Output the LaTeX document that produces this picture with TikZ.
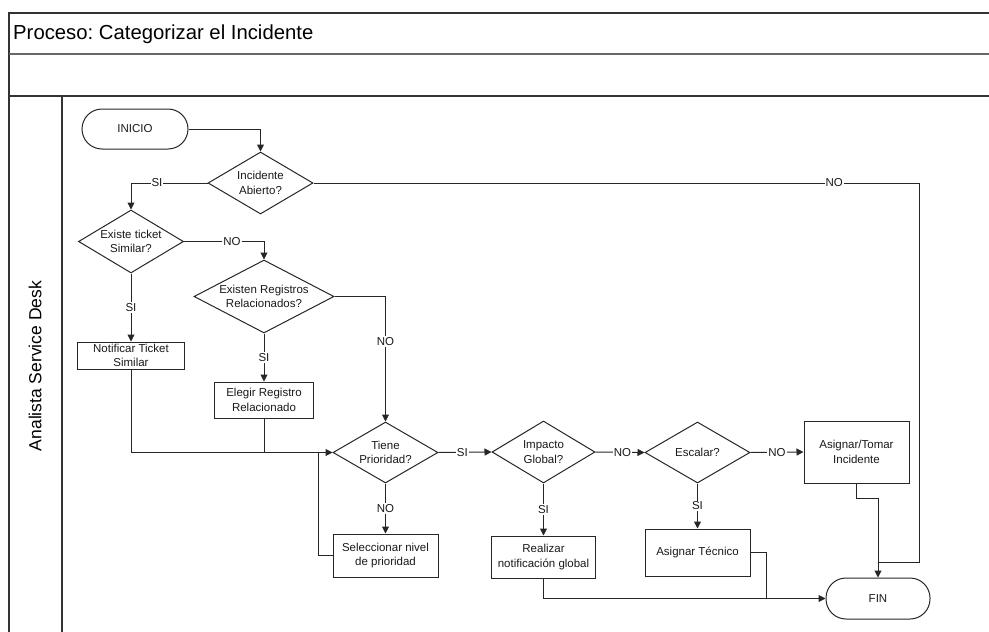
\documentclass[tikz,border=0pt]{standalone}
\usepackage{fontspec}
\setmainfont{Liberation Sans}
\usetikzlibrary{shapes.geometric,arrows.meta}
\frenchspacing
\begin{document}
\begin{tikzpicture}[x=1pt,y=-1pt,
  ln/.style={line width=1pt, draw=black!85},
  arr/.style={ln, -{Triangle[length=7pt,width=7pt]}},
  frame/.style={line width=1.3pt, draw=black!80},
  txt/.style={font=\fontsize{11.5}{14.5}\selectfont, align=center, inner sep=0pt, text=black!90},
  box/.style={draw=black!85, line width=1pt, rectangle, inner sep=0pt, txt},
  dia/.style={draw=black!85, line width=1pt, diamond, inner sep=0pt, minimum width=105pt, minimum height=62pt},
  term/.style={box, rounded corners=20pt},
  lbl/.style={font=\fontsize{11.5}{14}\selectfont, fill=white, inner sep=1pt, text=black!90},
]
\useasboundingbox (0,0) rectangle (989,632);

% pool and lane frame
\draw[frame] (989,13) -- (9,13) -- (9,632);
\draw[frame, draw=black!60] (9,54) -- (989,54);
\draw[frame] (9,96) -- (989,96);
\draw[frame] (62,96) -- (62,632);
\node[anchor=base west, font=\fontsize{20.3}{24}\selectfont, inner sep=0pt] (title) at (13,39) {Proceso: Categorizar el Incidente};
\node[rotate=90, font=\fontsize{17.5}{20}\selectfont, inner sep=0pt] (lane) at (35,366) {Analista Service Desk};

% terminals
\node[term, minimum width=106pt, minimum height=40pt] (ini) at (135,129) {INICIO};
\node[term, minimum width=104pt, minimum height=41pt] (fin) at (878,598.5) {FIN};

% decisions
\node[dia] (d1) at (260.5,183) {};
\node[txt] (d1t) at (d1) {Incidente\\Abierto?};
\node[dia, minimum height=63pt] (d2) at (131,241.5) {};
\node[txt] (d2t) at (d2) {Existe ticket\\Similar?};
\node[dia, minimum width=140pt, minimum height=73pt] (d3) at (264,296.5) {};
\node[txt] (d3t) at (d3) {Existen Registros\\Relacionados?};
\node[dia, minimum height=61pt] (d4) at (385.5,452.5) {};
\node[txt] (d4t) at (d4) {Tiene\\Prioridad?};
\node[dia, minimum width=103pt] (d5) at (543.5,452) {};
\node[txt] (d5t) at (d5) {Impacto\\Global?};
\node[dia, minimum height=61pt] (d6) at (697.5,452.5) {};
\node[txt] (d6t) at (d6) {Escalar?};

% activities
\node[box, minimum width=107pt, minimum height=27pt] (b1) at (131,355.5) {Notificar Ticket\\Similar};
\node[box, minimum width=99pt, minimum height=36pt] (b2) at (264,400) {Elegir Registro\\Relacionado};
\node[box, minimum width=105pt, minimum height=43pt] (b3) at (385.5,555.5) {Seleccionar nivel\\de prioridad};
\node[box, minimum width=104pt, minimum height=42pt] (b4) at (543.5,557) {Realizar\\notificación global};
\node[box, minimum width=105pt, minimum height=62pt] (b5) at (856.5,452) {Asignar/Tomar\\Incidente};
\node[box, minimum width=105pt, minimum height=47pt] (b6) at (697.5,552.5) {Asignar Técnico};

% bend and junction points
\coordinate (j1) at (318,452.5);
\coordinate (j2) at (766,598.5);
\coordinate (k1) at (919,183);
\coordinate (j3) at (878,562);
\coordinate (k2) at (878,498);

% connectors
\draw[arr] (ini.east) -| (d1.north);
\draw[arr] (d1.west) -| node[lbl, pos=0.33] {SI} (d2.north);
\draw[arr] (d2.east) -| node[lbl, pos=0.3] {NO} (d3.north);
\draw[arr] (d2.south) -- node[lbl] {SI} (b1.north);
\draw[arr] (d3.south) -- node[lbl] {SI} (b2.north);
\draw[arr] (d3.east) -| node[lbl, pos=0.68] {NO} (d4.north);
\draw[arr] (b1.south) |- (d4.west);
\draw[ln] (b2.south) -- (b2.south |- d4.west);
\draw[ln] (b3.west) -| (j1);
\draw[arr] (d4.south) -- node[lbl] {NO} (b3.north);
\draw[arr] (d4.east) -- node[lbl, pos=0.45] {SI} (d5.west);
\draw[arr] (d5.south) -- node[lbl] {SI} (b4.north);
\draw[arr] (d5.east) -- node[lbl, pos=0.55] {NO} (d6.west);
\draw[arr] (d6.east) -- node[lbl] {NO} (b5.west);
\draw[arr] (d6.south) -- node[lbl] {SI} (b6.north);
\draw[arr] (b4.south) |- (fin.west);
\draw[ln] (b6.east) -| (j2);
\draw[arr] (b5.south) |- (k2) -- (fin.north);
\draw[ln] (d1.east) -- node[lbl, pos=0.86] {NO} (k1) |- (j3);
\end{tikzpicture}
\end{document}
